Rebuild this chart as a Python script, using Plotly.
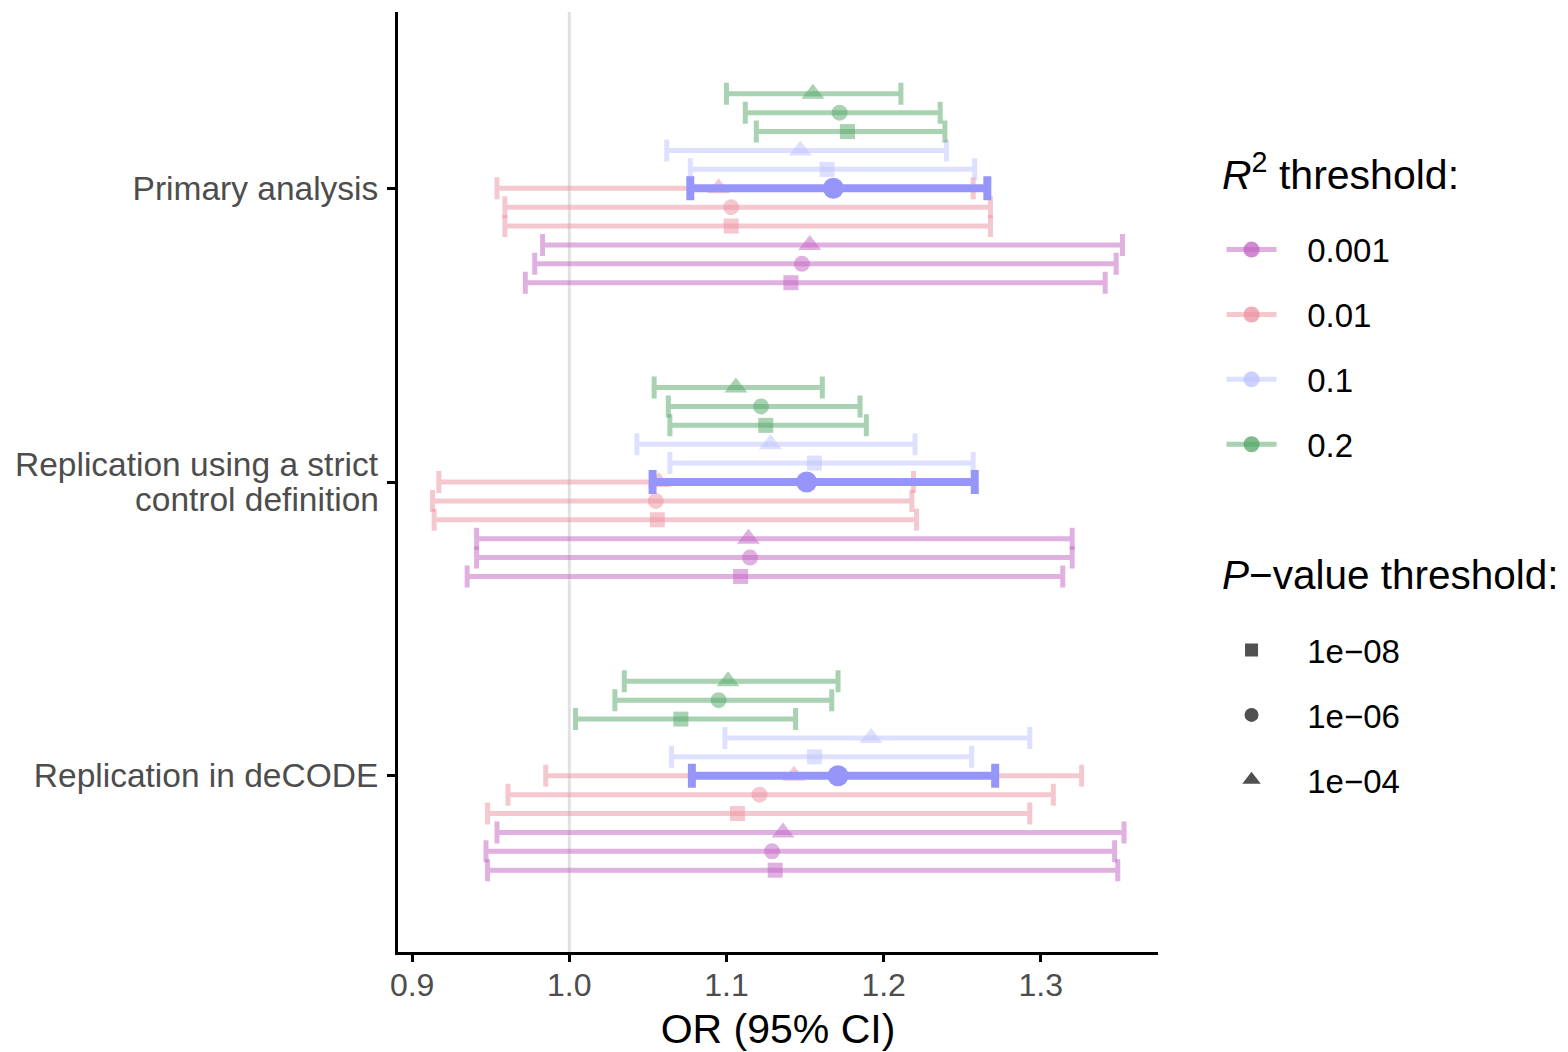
import plotly.graph_objects as go

# ---------------- data ----------------
analyses = ["Primary analysis", "Replication using a strict\ncontrol definition", "Replication in deCODE"]
r2_levels = ["0.001", "0.01", "0.1", "0.2"]
p_levels = ["1e\u221208", "1e\u221206", "1e\u221204"]

# combos ordered: for r2 in r2_levels, for p in p_levels
or_primary = [1.141, 1.148, 1.153, 1.103, 1.103, 1.095, 1.164, 1.168, 1.147, 1.177, 1.172, 1.155]
lo_primary = [0.972, 0.978, 0.983, 0.959, 0.959, 0.954, 1.077, 1.077, 1.062, 1.119, 1.112, 1.100]
hi_primary = [1.341, 1.348, 1.352, 1.268, 1.268, 1.257, 1.258, 1.266, 1.240, 1.239, 1.236, 1.211]

or_strict = [1.109, 1.115, 1.114, 1.056, 1.055, 1.057, 1.156, 1.151, 1.128, 1.125, 1.122, 1.106]
lo_strict = [0.935, 0.941, 0.941, 0.914, 0.913, 0.917, 1.064, 1.053, 1.043, 1.064, 1.063, 1.054]
hi_strict = [1.314, 1.320, 1.320, 1.221, 1.218, 1.219, 1.257, 1.258, 1.220, 1.189, 1.185, 1.161]

or_decode = [1.131, 1.129, 1.136, 1.107, 1.121, 1.143, 1.156, 1.171, 1.192, 1.071, 1.095, 1.101]
lo_decode = [0.948, 0.947, 0.954, 0.948, 0.961, 0.985, 1.065, 1.078, 1.099, 1.004, 1.029, 1.035]
hi_decode = [1.349, 1.347, 1.353, 1.293, 1.308, 1.326, 1.256, 1.271, 1.293, 1.144, 1.167, 1.171]

x_ticks = [0.9, 1.0, 1.1, 1.2, 1.3]

# ---------------- styling ----------------
base_rgb = ["193,97,193", "235,145,161", "189,193,255", "81,165,101"]
symbols = ["square", "circle", "triangle-up"]
sizes = [15, 16, 20]
highlight = (2, 1)  # R2 0.1, P 1e-06
highlight_color = "rgb(150,150,250)"

group_centers = [3, 2, 1]
step = 0.0643
dodge_order = [(0, 0), (0, 1), (0, 2), (1, 0), (1, 1), (1, 2), (2, 0), (2, 2), (3, 0), (3, 1), (3, 2)]

ors = [or_primary, or_strict, or_decode]
los = [lo_primary, lo_strict, lo_decode]
his = [hi_primary, hi_strict, hi_decode]

fig = go.Figure()

def add_combo(i, j, hl=False):
    k = i * 3 + j
    off = 0.0 if hl else (dodge_order.index((i, j)) - 5) * step
    xs = [ors[g][k] for g in range(3)]
    ys = [group_centers[g] + off for g in range(3)]
    plus = [his[g][k] - ors[g][k] for g in range(3)]
    minus = [ors[g][k] - los[g][k] for g in range(3)]
    if hl:
        col_line = highlight_color
        col_mk = highlight_color
        th, w, ms = 8, 12, 21
    else:
        col_line = f"rgba({base_rgb[i]},0.5)"
        col_mk = f"rgba({base_rgb[i]},0.5)"
        th, w, ms = 5, 11, sizes[j]
    fig.add_trace(go.Scatter(
        x=xs, y=ys, mode="markers", showlegend=False, hoverinfo="skip",
        marker=dict(symbol=symbols[j], size=ms, color=col_mk, line=dict(width=0)),
        error_x=dict(type="data", symmetric=False, array=plus, arrayminus=minus,
                     color=col_line, thickness=th, width=w),
    ))

for i in range(4):
    for j in range(3):
        if (i, j) != highlight:
            add_combo(i, j)
add_combo(*highlight, hl=True)

PAD = "\u2002\u00a0"
# legend traces
for i, lab in enumerate(r2_levels):
    fig.add_trace(go.Scatter(
        x=[None], y=[None], mode="lines+markers", name=PAD + lab, legend="legend",
        legendgroup=f"r2_{i}",
        line=dict(color=f"rgba({base_rgb[i]},0.5)", width=5),
        marker=dict(symbol="circle", size=16, color=f"rgba({base_rgb[i]},0.75)"),
    ))
for j, lab in enumerate(p_levels):
    fig.add_trace(go.Scatter(
        x=[None], y=[None], mode="markers", name=PAD + lab, legend="legend2",
        legendgroup=f"p_{j}",
        marker=dict(symbol=symbols[j], size=[13, 14, 16][j], color="rgb(80,80,80)"),
    ))

fig.add_shape(type="line", xref="x", yref="paper", x0=1.0, x1=1.0, y0=0, y1=1,
              line=dict(color="rgb(225,225,225)", width=3), layer="below")

FONT = "Liberation Sans, Arial, sans-serif"
YFONT = 33.5

# y-axis category labels (multi-line label drawn line by line for tighter leading)
tick_text = []
for g, lab in enumerate(analyses):
    lines = lab.split("\n")
    if len(lines) == 1:
        tick_text.append(lab)
    else:
        tick_text.append("")
        n = len(lines)
        for li, line in enumerate(lines):
            fig.add_annotation(xref="paper", yref="y", x=0, y=group_centers[g], xanchor="right",
                               yanchor="middle", xshift=-17, yshift=(n - 1) / 2 * 35 - li * 35,
                               text=line, showarrow=False,
                               font=dict(size=YFONT, color="#4d4d4d", family=FONT))

fig.add_annotation(xref="paper", yref="paper", x=1.0817, y=0.830, xanchor="left", yanchor="middle",
                   text="<i>R</i><sup>2</sup> threshold:", showarrow=False,
                   font=dict(size=41, family=FONT, color="black"))
fig.add_annotation(xref="paper", yref="paper", x=1.0817, y=0.401, xanchor="left", yanchor="middle",
                   text="<i>P</i>\u2212value threshold:", showarrow=False,
                   font=dict(size=40.5, family=FONT, color="black"))

fig.update_layout(
    width=1568, height=1052,
    margin=dict(l=390, r=418, t=4, b=108),
    plot_bgcolor="white", paper_bgcolor="white",
    font=dict(family=FONT, color="black"),
    xaxis=dict(
        range=[0.891, 1.3746], tickvals=x_ticks, ticktext=[f"{v:.1f}" for v in x_ticks],
        showgrid=False, zeroline=False, showline=True, linecolor="black", linewidth=3,
        ticks="outside", ticklen=7, tickwidth=3, tickcolor="black", ticklabelstandoff=-4,
        tickfont=dict(size=32, color="#4d4d4d", family=FONT), automargin=False,
        title=dict(text="OR (95% CI)", font=dict(size=41, color="black", family=FONT), standoff=12),
    ),
    yaxis=dict(
        range=[0.4, 3.6], tickvals=group_centers, ticktext=tick_text,
        showgrid=False, zeroline=False, showline=True, linecolor="black", linewidth=3,
        ticks="outside", ticklen=8, tickwidth=3, tickcolor="black", ticklabelstandoff=2,
        tickfont=dict(size=YFONT, color="#4d4d4d", family=FONT), automargin=False,
    ),
    legend=dict(
        x=1.0836, xanchor="left", y=0.777, yanchor="top",
        font=dict(size=33, family=FONT), tracegroupgap=19, itemwidth=50,
        bgcolor="rgba(0,0,0,0)",
    ),
    legend2=dict(
        x=1.0836, xanchor="left", y=0.351, yanchor="top",
        font=dict(size=33, family=FONT), tracegroupgap=19, itemwidth=50,
        bgcolor="rgba(0,0,0,0)",
    ),
)

fig.write_html("out.html")
